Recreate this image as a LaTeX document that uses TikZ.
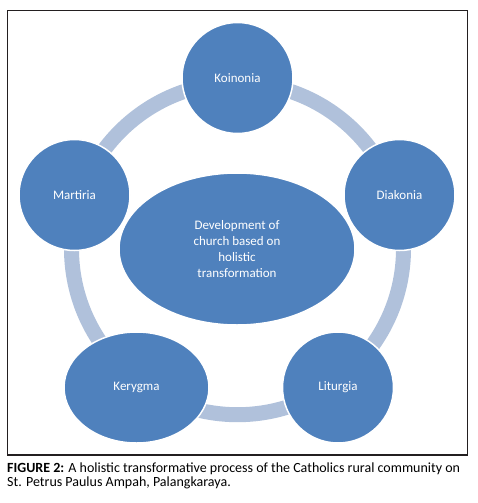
\documentclass[tikz,border=0pt]{standalone}
\usepackage{fontspec}
\setmainfont{Carlito}
\usetikzlibrary{shapes.geometric}
\definecolor{diskblue}{RGB}{79,129,189}
\definecolor{ringblue}{RGB}{176,193,219}
\definecolor{framegray}{RGB}{35,31,32}
\begin{document}
\begin{tikzpicture}[x=1pt, y=-1pt,
  disk/.style={circle, fill=diskblue, draw=white, line width=1.5pt, minimum size=111pt, inner sep=0pt, text=white, font=\fontsize{13}{16}\selectfont},
  oval/.style={ellipse, fill=diskblue, draw=white, line width=1.5pt, inner sep=0pt, text=white, font=\fontsize{13}{16}\selectfont, align=center},
  ring/.style={draw=ringblue, line width=15pt}]
\useasboundingbox (0,0) rectangle (478,503);
\draw[framegray, line width=1.5pt] (7.5,10.5) rectangle (467.5,455);
\coordinate (mid) at (237.5,248.7);
\draw[ring] (mid) circle[radius=166];
\node[disk] (koinonia) at (237.5,78) {Koinonia};
\node[disk] (diakonia) at (399.5,195) {Diakonia};
\node[disk] (liturgia) at (338,387.5) {Liturgia};
\node[oval, minimum width=145pt, minimum height=111pt] (kerygma) at (136.5,387.5) {Kerygma};
\node[disk] (martiria) at (74.5,195) {Martiria};
\node[oval, minimum width=236pt, minimum height=152pt] (hub) at (237,249) {Development of\\church based on\\holistic\\transformation};
\node[anchor=north west, inner sep=0pt, align=left, font=\fontsize{14}{14}\selectfont] (caption) at (7,463) {\textbf{FIGURE 2:} A holistic transformative process of the Catholics rural community on\\St. Petrus Paulus Ampah, Palangkaraya.};
\end{tikzpicture}
\end{document}
